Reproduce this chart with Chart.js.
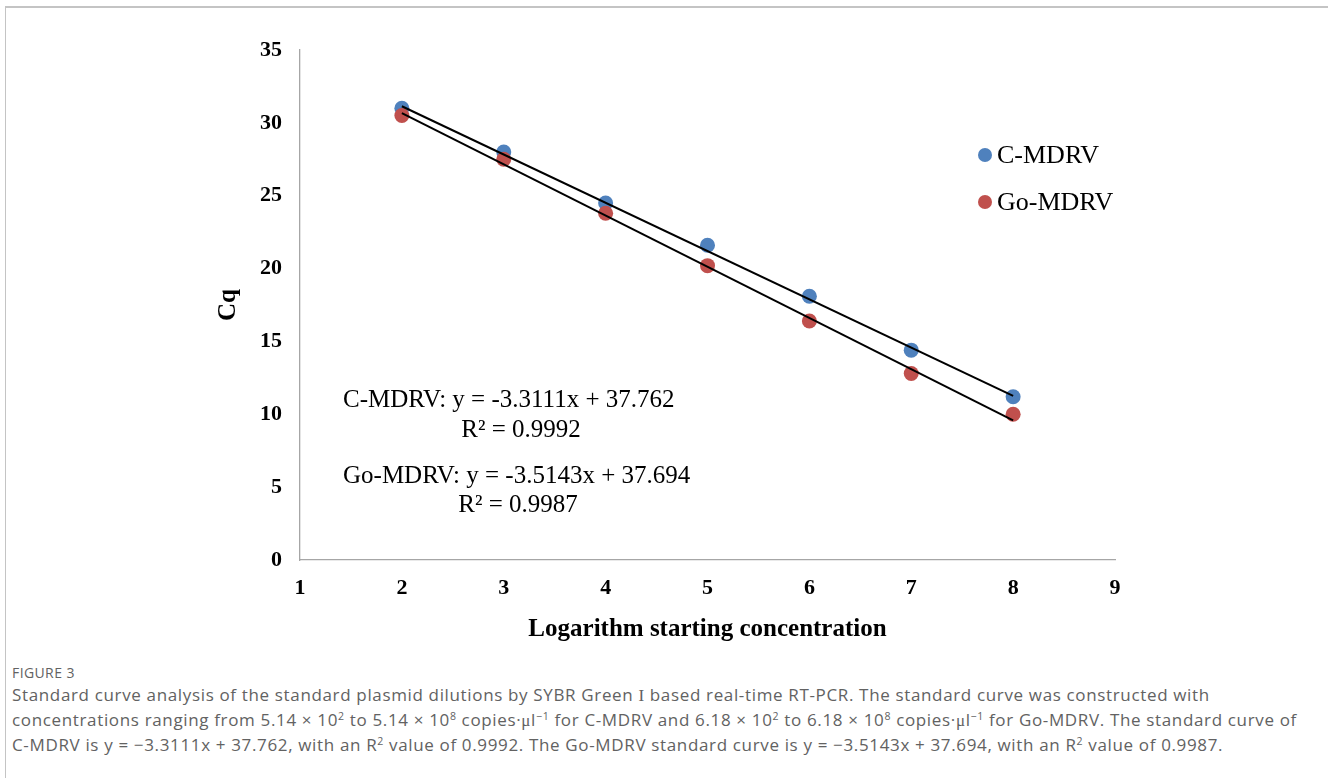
<!DOCTYPE html>
<html>
<head>
<meta charset="utf-8">
<script src="https://cdn.jsdelivr.net/npm/chart.js@4.4.1/dist/chart.umd.min.js"></script>
<style>
  html, body { margin: 0; padding: 0; background: #fff; }
  body { width: 1328px; height: 778px; position: relative; overflow: hidden; }
  #frame { position: absolute; left: 5px; top: 6px; right: 0; bottom: -5px;
           border-top: 2px solid #c4c4c4; border-left: 1.5px solid #c4c4c4; }
  #wrap { position: absolute; left: 0; top: 0; width: 1328px; height: 660px; }
  #cap { position: absolute; left: 12px; top: 663px; color: #626262;
         font-family: "Open Sans", Lato, sans-serif; white-space: nowrap; }
  #cap .fig { font-size: 14px; line-height: 20px; letter-spacing: 0.4px; }
  #cap .txt { font-size: 17px; line-height: 24px; letter-spacing: 0.65px; }
  #cap sup { font-size: 0.62em; line-height: 0; vertical-align: 0.55em; }
  .serif { font-family: "Liberation Serif", serif; }
</style>
</head>
<body>
<div id="frame"></div>
<div id="wrap"><canvas id="canvas" width="1328" height="660"></canvas></div>
<div id="cap">
  <div class="fig">FIGURE 3</div>
  <div class="txt">Standard curve analysis of the standard plasmid dilutions by SYBR Green <span class="serif">I</span> based real-time RT-PCR. The standard curve was constructed with<br>
  concentrations ranging from 5.14 × 10<sup>2</sup> to 5.14 × 10<sup>8</sup> copies·<span class="serif">μ</span>l<sup>−1</sup> for C-MDRV and 6.18 × 10<sup>2</sup> to 6.18 × 10<sup>8</sup> copies·<span class="serif">μ</span>l<sup>−1</sup> for Go-MDRV. The standard curve of<br>
  C-MDRV is y = −3.3111x + 37.762, with an R<sup>2</sup> value of 0.9992. The Go-MDRV standard curve is y = −3.5143x + 37.694, with an R<sup>2</sup> value of 0.9987.</div>
</div>
<script>
// values
const logConc = [2, 3, 4, 5, 6, 7, 8];
const cmdrvCq = [31.0, 28.0, 24.5, 21.6, 18.1, 14.4, 11.2];
const gomdrvCq = [30.5, 27.5, 23.8, 20.2, 16.4, 12.8, 10.0];

// trend line ends (x = 2 and x = 8)
const trendX = [2, 8];
const cmdrvTrend = [31.14, 11.27];
const gomdrvTrend = [30.67, 9.58];

const seriesNames = ["C-MDRV", "Go-MDRV"];
const equations = ["C-MDRV: y = -3.3111x + 37.762", "Go-MDRV: y = -3.5143x + 37.694"];
const rSquared = ["R² = 0.9992", "R² = 0.9987"];

const blue = "#4f81bd";
const red = "#c0504d";
const serif = '"Liberation Serif", "Times New Roman", serif';

let toPoints = function(xs, ys) {
  return xs.map((x, i) => ({x: x, y: ys[i]}));
}

// legend and equation text
let textPlugin = {
  id: "textPlugin",
  afterDraw: function(chart) {
    let ctx = chart.ctx;
    ctx.save();
    ctx.textBaseline = "middle";
    ctx.fillStyle = "#000";

    // legend
    ctx.font = "26px " + serif;
    let colors = [blue, red];
    let legY = [155, 202];
    for (let i = 0; i < 2; i++) {
      ctx.beginPath();
      ctx.fillStyle = colors[i];
      ctx.arc(985, legY[i], 7, 0, Math.PI * 2);
      ctx.fill();
      ctx.fillStyle = "#000";
      ctx.textAlign = "left";
      ctx.fillText(seriesNames[i], 997, legY[i] + 1);
    }

    // equations
    ctx.font = "25px " + serif;
    ctx.textAlign = "left";
    ctx.fillText(equations[0], 343, 400);
    ctx.fillText(equations[1], 343, 476);
    ctx.textAlign = "center";
    ctx.fillText(rSquared[0], 521, 430);
    ctx.fillText(rSquared[1], 518, 505);
    ctx.restore();
  }
}

let ctx = document.getElementById("canvas").getContext("2d");

window.my_chart = new Chart(ctx, {
  type: "scatter",
  data: {
    datasets: [
      {
        label: seriesNames[0],
        data: toPoints(logConc, cmdrvCq),
        backgroundColor: blue,
        borderWidth: 0,
        pointRadius: 7.5,
        order: 2
      },
      {
        label: seriesNames[1],
        data: toPoints(logConc, gomdrvCq),
        backgroundColor: red,
        borderWidth: 0,
        pointRadius: 7.5,
        order: 1
      },
      {
        label: "C-MDRV trend",
        data: toPoints(trendX, cmdrvTrend),
        showLine: true,
        borderColor: "#000",
        borderWidth: 2,
        pointRadius: 0,
        order: 0
      },
      {
        label: "Go-MDRV trend",
        data: toPoints(trendX, gomdrvTrend),
        showLine: true,
        borderColor: "#000",
        borderWidth: 2,
        pointRadius: 0,
        order: 0
      }
    ]
  },
  options: {
    responsive: false,
    animation: false,
    layout: {
      padding: {left: 212, top: 50, right: 213, bottom: 15}
    },
    plugins: {
      legend: {display: false},
      tooltip: {enabled: false}
    },
    scales: {
      x: {
        type: "linear",
        min: 1,
        max: 9,
        ticks: {
          stepSize: 1,
          padding: 15,
          color: "#000",
          font: {family: serif, size: 22, weight: "bold"}
        },
        grid: {display: false, drawTicks: false},
        border: {display: true, color: "#a6a6a6", width: 1.3},
        title: {
          display: true,
          text: "Logarithm starting concentration",
          color: "#000",
          padding: {top: 0, bottom: 0},
          font: {family: serif, size: 25, weight: "bold"}
        },
        afterFit: function(scale) { scale.height = 85; }
      },
      y: {
        min: 0,
        max: 35,
        ticks: {
          stepSize: 5,
          padding: 18,
          color: "#000",
          font: {family: serif, size: 22, weight: "bold"}
        },
        grid: {display: false, drawTicks: false},
        border: {display: true, color: "#a6a6a6", width: 1.3},
        title: {
          display: true,
          text: "Cq",
          color: "#000",
          padding: {top: 2, bottom: 0},
          font: {family: serif, size: 25, weight: "bold"}
        },
        afterFit: function(scale) { scale.width = 88; }
      }
    }
  },
  plugins: [textPlugin]
});
</script>
</body>
</html>
